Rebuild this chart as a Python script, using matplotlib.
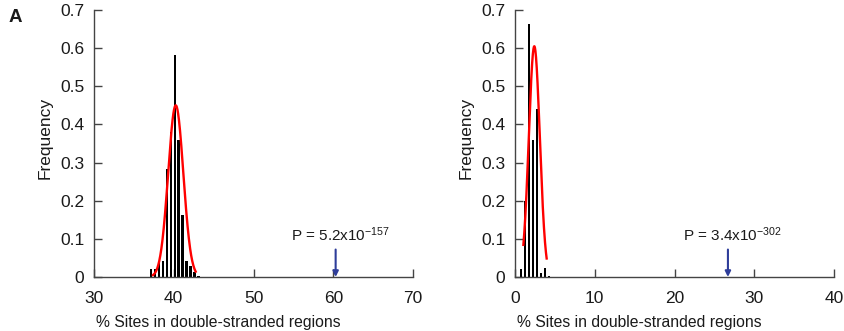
import numpy as np
import matplotlib
matplotlib.use("Agg")
import matplotlib.pyplot as plt

plt.rcParams['font.family'] = ['Liberation Sans', 'DejaVu Sans']
plt.rcParams['mathtext.fontset'] = 'custom'
plt.rcParams['mathtext.rm'] = 'Liberation Sans'
plt.rcParams['mathtext.it'] = 'Liberation Sans:italic'

# left panel: histogram of % sites in ds regions (bin centres, frequency)
left_bins = [37.1, 37.6, 38.1, 38.6, 39.1, 39.6, 40.1, 40.6, 41.1, 41.6, 42.1, 42.6, 43.1]
left_freq = [0.022, 0.022, 0.042, 0.042, 0.283, 0.38, 0.582, 0.36, 0.163, 0.042, 0.03, 0.012, 0.003]
left_fit = dict(mu=40.25, sigma=0.95, peak=0.45, lo=37.4, hi=42.75)
left_obs = 60.3
left_p = r'P = 5.2x10$^{-157}$'

# right panel
right_bins = [0.75, 1.25, 1.75, 2.25, 2.75, 3.25, 3.75, 4.25]
right_freq = [0.022, 0.20, 0.663, 0.36, 0.44, 0.01, 0.024, 0.003]
right_fit = dict(mu=2.42, sigma=0.69, peak=0.605, lo=1.05, hi=3.97)
right_obs = 26.7
right_p = r'P = 3.4x10$^{-302}$'

W, H = 844, 331
fig = plt.figure(figsize=(W / 100, H / 100), dpi=100)

spine_col = '#444444'
txt_col = '#1a1a1a'
arrow_col = '#2e3d9a'


def panel(rect, bins, freq, fit, obs, ptxt, xlim, xticks):
    ax = fig.add_axes(rect)
    ax.bar(bins, freq, width=0.26, color='black', zorder=2)
    xs = np.linspace(fit['lo'], fit['hi'], 200)
    ys = fit['peak'] * np.exp(-0.5 * ((xs - fit['mu']) / fit['sigma']) ** 2)
    ax.plot(xs, ys, color='red', lw=1.7, zorder=3)

    ax.annotate('', xy=(obs, 0.0), xytext=(obs, 0.072),
                arrowprops=dict(arrowstyle='-|>', color=arrow_col, lw=1.5,
                                mutation_scale=8, shrinkA=0, shrinkB=0), zorder=4)
    ax.text(obs + 0.06 * (xlim[1] - xlim[0]) / 4, 0.094, ptxt, ha='center', va='baseline',
            fontsize=11, color=txt_col)

    ax.set_xlim(*xlim)
    ax.set_ylim(0, 0.7)
    ax.set_xticks(xticks)
    ax.set_yticks(np.arange(0, 0.71, 0.1))
    ax.set_yticklabels(['0', '0.1', '0.2', '0.3', '0.4', '0.5', '0.6', '0.7'])
    ax.tick_params(direction='in', length=6, width=1, color=spine_col,
                   labelsize=12.5, labelcolor=txt_col)
    ax.tick_params(axis='x', pad=10)
    ax.tick_params(axis='y', pad=7)
    for s in ['top', 'right']:
        ax.spines[s].set_visible(False)
    for s in ['left', 'bottom']:
        ax.spines[s].set_color(spine_col)
        ax.spines[s].set_linewidth(1)

    ax.set_xlabel('% Sites in double-stranded regions', fontsize=11.3, color=txt_col)
    ax.xaxis.set_label_coords(0.39, -0.17)
    ax.xaxis.label.set_va('center')
    ax.set_ylabel('Frequency', fontsize=12.5, color=txt_col)
    ax.yaxis.set_label_coords(-0.154, 0.522)
    ax.yaxis.label.set_va('center')
    return ax


ax1 = panel([94 / W, 1 - 277 / H, 319 / W, 267 / H], left_bins, left_freq, left_fit,
            left_obs, left_p, (30, 70), [30, 40, 50, 60, 70])
ax2 = panel([515 / W, 1 - 277 / H, 319 / W, 267 / H], right_bins, right_freq, right_fit,
            right_obs, right_p, (0, 40), [0, 10, 20, 30, 40])

fig.text(15 / W, 1 - 18 / H, 'A', fontsize=13.5, fontweight='bold', ha='center', va='center',
         color=txt_col)

fig.savefig('out.png', dpi=100)
